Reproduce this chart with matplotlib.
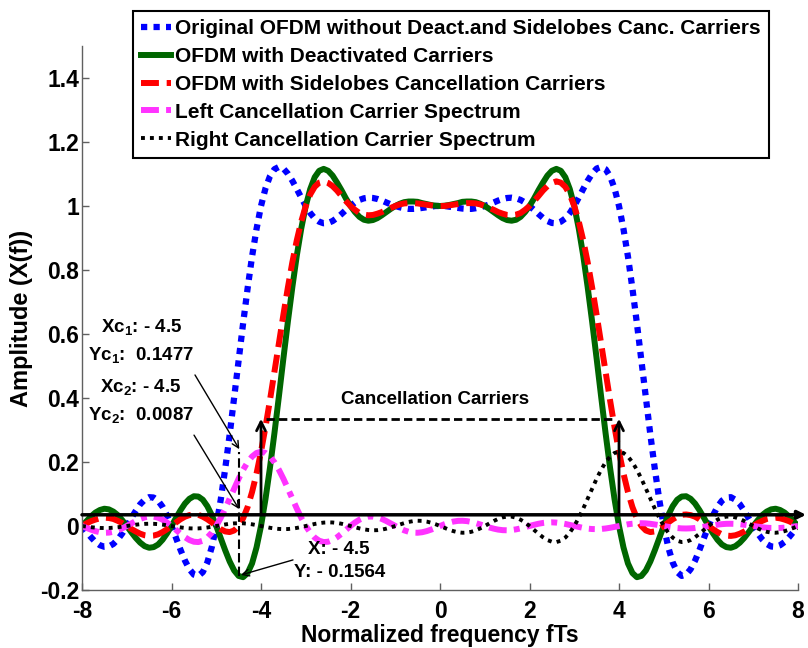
import numpy as np
import matplotlib
matplotlib.use('Agg')
import matplotlib.pyplot as plt

# ---------------- data (step 0.1 in fTs) ----------------
freq = np.linspace(-8, 8, 161)

original = [
    0.000, -0.018, -0.035, -0.050, -0.060, -0.065, -0.064, -0.056, -0.042, -0.023,
    0.000, 0.024, 0.047, 0.068, 0.082, 0.090, 0.089, 0.079, 0.060, 0.033,
    0.000, -0.037, -0.074, -0.108, -0.135, -0.152, -0.156, -0.144, -0.114, -0.066,
    0.000, 0.082, 0.179, 0.286, 0.401, 0.518, 0.633, 0.742, 0.842, 0.928,
    1.000, 1.055, 1.093, 1.115, 1.122, 1.117, 1.101, 1.079, 1.053, 1.026,
    1.000, 0.978, 0.961, 0.951, 0.946, 0.947, 0.953, 0.963, 0.975, 0.988,
    1.000, 1.011, 1.019, 1.024, 1.026, 1.025, 1.022, 1.017, 1.011, 1.005,
    1.000, 0.996, 0.993, 0.991, 0.991, 0.992, 0.994, 0.996, 0.998, 1.000,
    1.000, 1.000, 0.998, 0.996, 0.994, 0.992, 0.991, 0.991, 0.993, 0.996,
    1.000, 1.005, 1.011, 1.017, 1.022, 1.025, 1.026, 1.024, 1.019, 1.011,
    1.000, 0.988, 0.975, 0.963, 0.953, 0.947, 0.946, 0.951, 0.961, 0.978,
    1.000, 1.026, 1.053, 1.079, 1.101, 1.117, 1.122, 1.115, 1.093, 1.055,
    1.000, 0.928, 0.842, 0.742, 0.633, 0.518, 0.401, 0.286, 0.179, 0.082,
    0.000, -0.066, -0.114, -0.144, -0.156, -0.152, -0.135, -0.108, -0.074, -0.037,
    0.000, 0.033, 0.060, 0.079, 0.089, 0.090, 0.082, 0.068, 0.047, 0.024,
    0.000, -0.023, -0.042, -0.056, -0.064, -0.065, -0.060, -0.050, -0.035, -0.018,
    0.000]

deactivated = [
    0.000, 0.015, 0.030, 0.042, 0.050, 0.054, 0.052, 0.045, 0.034, 0.018,
    0.000, -0.019, -0.037, -0.052, -0.063, -0.068, -0.066, -0.058, -0.043, -0.023,
    0.000, 0.025, 0.049, 0.070, 0.085, 0.093, 0.092, 0.082, 0.062, 0.034,
    0.000, -0.038, -0.076, -0.111, -0.139, -0.156, -0.160, -0.147, -0.117, -0.067,
    0.000, 0.084, 0.182, 0.290, 0.405, 0.523, 0.638, 0.746, 0.845, 0.930,
    1.000, 1.053, 1.090, 1.110, 1.116, 1.110, 1.095, 1.073, 1.049, 1.023,
    1.000, 0.981, 0.966, 0.957, 0.954, 0.956, 0.962, 0.971, 0.981, 0.991,
    1.000, 1.007, 1.012, 1.014, 1.014, 1.013, 1.009, 1.006, 1.003, 1.001,
    1.000, 1.001, 1.003, 1.006, 1.009, 1.013, 1.014, 1.014, 1.012, 1.007,
    1.000, 0.991, 0.981, 0.971, 0.962, 0.956, 0.954, 0.957, 0.966, 0.981,
    1.000, 1.023, 1.049, 1.073, 1.095, 1.110, 1.116, 1.110, 1.090, 1.053,
    1.000, 0.930, 0.845, 0.746, 0.638, 0.523, 0.405, 0.290, 0.182, 0.084,
    0.000, -0.067, -0.117, -0.147, -0.160, -0.156, -0.139, -0.111, -0.076, -0.038,
    0.000, 0.034, 0.062, 0.082, 0.092, 0.093, 0.085, 0.070, 0.049, 0.025,
    0.000, -0.023, -0.043, -0.058, -0.066, -0.068, -0.063, -0.052, -0.037, -0.019,
    0.000, 0.018, 0.034, 0.045, 0.052, 0.054, 0.050, 0.042, 0.030, 0.015,
    0.000]

cancelled = [
    0.000, 0.008, 0.015, 0.020, 0.024, 0.026, 0.025, 0.022, 0.016, 0.009,
    0.000, -0.009, -0.017, -0.024, -0.029, -0.031, -0.030, -0.026, -0.019, -0.010,
    0.000, 0.011, 0.021, 0.029, 0.034, 0.036, 0.035, 0.029, 0.021, 0.011,
    0.000, -0.010, -0.017, -0.019, -0.014, 0.000, 0.024, 0.059, 0.106, 0.164,
    0.232, 0.309, 0.393, 0.482, 0.572, 0.660, 0.745, 0.824, 0.893, 0.952,
    1.000, 1.036, 1.060, 1.073, 1.077, 1.072, 1.062, 1.048, 1.031, 1.015,
    1.000, 0.988, 0.978, 0.973, 0.971, 0.972, 0.976, 0.981, 0.988, 0.994,
    1.000, 1.005, 1.008, 1.009, 1.009, 1.008, 1.006, 1.004, 1.002, 1.000,
    1.000, 1.000, 1.002, 1.004, 1.006, 1.008, 1.009, 1.009, 1.008, 1.005,
    1.000, 0.994, 0.988, 0.981, 0.976, 0.972, 0.971, 0.973, 0.978, 0.988,
    1.000, 1.015, 1.031, 1.048, 1.062, 1.072, 1.077, 1.073, 1.060, 1.036,
    1.000, 0.952, 0.893, 0.824, 0.745, 0.660, 0.572, 0.482, 0.393, 0.309,
    0.232, 0.164, 0.106, 0.059, 0.024, 0.000, -0.014, -0.019, -0.017, -0.010,
    0.000, 0.011, 0.021, 0.029, 0.035, 0.036, 0.034, 0.029, 0.021, 0.011,
    0.000, -0.010, -0.019, -0.026, -0.030, -0.031, -0.029, -0.024, -0.017, -0.009,
    0.000, 0.009, 0.016, 0.022, 0.025, 0.026, 0.024, 0.020, 0.015, 0.008,
    0.000]

left_carrier = [
    0.0000, -0.0059, -0.0114, -0.0161, -0.0195, -0.0211, -0.0207, -0.0181, -0.0136, -0.0074,
    0.0000, 0.0079, 0.0155, 0.0221, 0.0270, 0.0295, 0.0293, 0.0260, 0.0197, 0.0109,
    0.0000, -0.0120, -0.0241, -0.0351, -0.0439, -0.0492, -0.0502, -0.0460, -0.0362, -0.0207,
    0.0000, 0.0254, 0.0543, 0.0854, 0.1171, 0.1477, 0.1756, 0.1992, 0.2170, 0.2282,
    0.2320, 0.2282, 0.2170, 0.1992, 0.1756, 0.1477, 0.1171, 0.0854, 0.0543, 0.0254,
    0.0000, -0.0207, -0.0362, -0.0460, -0.0502, -0.0492, -0.0439, -0.0351, -0.0241, -0.0120,
    0.0000, 0.0109, 0.0197, 0.0260, 0.0293, 0.0295, 0.0270, 0.0221, 0.0155, 0.0079,
    0.0000, -0.0074, -0.0136, -0.0181, -0.0207, -0.0211, -0.0195, -0.0161, -0.0114, -0.0059,
    0.0000, 0.0056, 0.0103, 0.0139, 0.0160, 0.0164, 0.0153, 0.0127, 0.0090, 0.0047,
    0.0000, -0.0045, -0.0083, -0.0113, -0.0130, -0.0134, -0.0125, -0.0105, -0.0075, -0.0039,
    0.0000, 0.0037, 0.0070, 0.0095, 0.0110, 0.0114, 0.0106, 0.0089, 0.0064, 0.0033,
    0.0000, -0.0032, -0.0060, -0.0082, -0.0095, -0.0098, -0.0092, -0.0078, -0.0056, -0.0029,
    0.0000, 0.0028, 0.0053, 0.0072, 0.0084, 0.0087, 0.0082, 0.0069, 0.0049, 0.0026,
    0.0000, -0.0025, -0.0047, -0.0064, -0.0075, -0.0078, -0.0073, -0.0062, -0.0044, -0.0023,
    0.0000, 0.0023, 0.0043, 0.0058, 0.0068, 0.0070, 0.0066, 0.0056, 0.0040, 0.0021,
    0.0000, -0.0021, -0.0039, -0.0053, -0.0062, -0.0064, -0.0061, -0.0051, -0.0037, -0.0019,
    0.0000]

right_carrier = [
    0.0000, -0.0019, -0.0037, -0.0051, -0.0061, -0.0064, -0.0062, -0.0053, -0.0039, -0.0021,
    0.0000, 0.0021, 0.0040, 0.0056, 0.0066, 0.0070, 0.0068, 0.0058, 0.0043, 0.0023,
    0.0000, -0.0023, -0.0044, -0.0062, -0.0073, -0.0078, -0.0075, -0.0064, -0.0047, -0.0025,
    0.0000, 0.0026, 0.0049, 0.0069, 0.0082, 0.0087, 0.0084, 0.0072, 0.0053, 0.0028,
    0.0000, -0.0029, -0.0056, -0.0078, -0.0092, -0.0098, -0.0095, -0.0082, -0.0060, -0.0032,
    0.0000, 0.0033, 0.0064, 0.0089, 0.0106, 0.0114, 0.0110, 0.0095, 0.0070, 0.0037,
    0.0000, -0.0039, -0.0075, -0.0105, -0.0125, -0.0134, -0.0130, -0.0113, -0.0083, -0.0045,
    0.0000, 0.0047, 0.0090, 0.0127, 0.0153, 0.0164, 0.0160, 0.0139, 0.0103, 0.0056,
    0.0000, -0.0059, -0.0114, -0.0161, -0.0195, -0.0211, -0.0207, -0.0181, -0.0136, -0.0074,
    0.0000, 0.0079, 0.0155, 0.0221, 0.0270, 0.0295, 0.0293, 0.0260, 0.0197, 0.0109,
    0.0000, -0.0120, -0.0241, -0.0351, -0.0439, -0.0492, -0.0502, -0.0460, -0.0362, -0.0207,
    0.0000, 0.0254, 0.0543, 0.0854, 0.1171, 0.1477, 0.1756, 0.1992, 0.2170, 0.2282,
    0.2320, 0.2282, 0.2170, 0.1992, 0.1756, 0.1477, 0.1171, 0.0854, 0.0543, 0.0254,
    0.0000, -0.0207, -0.0362, -0.0460, -0.0502, -0.0492, -0.0439, -0.0351, -0.0241, -0.0120,
    0.0000, 0.0109, 0.0197, 0.0260, 0.0293, 0.0295, 0.0270, 0.0221, 0.0155, 0.0079,
    0.0000, -0.0074, -0.0136, -0.0181, -0.0207, -0.0211, -0.0195, -0.0161, -0.0114, -0.0059,
    0.0000]

labels = ['Original OFDM without Deact.and Sidelobes Canc. Carriers',
          'OFDM with Deactivated Carriers',
          'OFDM with Sidelobes Cancellation Carriers',
          'Left Cancellation Carrier Spectrum',
          'Right Cancellation Carrier Spectrum']

x_ticks = [-8, -6, -4, -2, 0, 2, 4, 6, 8]
y_ticks = [-0.2, 0, 0.2, 0.4, 0.6, 0.8, 1.0, 1.2, 1.4]
y_ticklabels = ['-0.2', '0', '0.2', '0.4', '0.6', '0.8', '1', '1.2', '1.4']

# ---------------- style ----------------
plt.rcParams['font.family'] = ['Liberation Sans', 'DejaVu Sans']
plt.rcParams['font.weight'] = 'bold'
plt.rcParams['axes.unicode_minus'] = False
plt.rcParams['mathtext.fontset'] = 'custom'
plt.rcParams['mathtext.rm'] = 'Liberation Sans:bold'
plt.rcParams['mathtext.it'] = 'Liberation Sans:bold'
plt.rcParams['mathtext.bf'] = 'Liberation Sans:bold'

fig = plt.figure(figsize=(8.08, 6.48), dpi=100)
ax = fig.add_axes([0.10149, 0.08951, 0.88614, 0.83951])

ax.plot(freq, original, color='#0000ff', lw=4.5, ls=(0, (1, 1)), label=labels[0])
ax.plot(freq, deactivated, color='#006600', lw=4.3, ls='-', label=labels[1])
ax.plot(freq, cancelled, color='#ff0000', lw=4.3, ls=(0, (3, 1.3)), label=labels[2])
ax.plot(freq, left_carrier, color='#ff33ff', lw=4.3, ls=(0, (3, 1.2, 1, 1.2)), label=labels[3])
ax.plot(freq, right_carrier, color='black', lw=2.8, ls=(0, (1, 1.3)), label=labels[4])

ax.set_xlim(-8, 8)
ax.set_ylim(-0.2, 1.5)
ax.set_xticks(x_ticks)
ax.set_yticks(y_ticks)
ax.set_yticklabels(y_ticklabels)
for s in ['top', 'right']:
    ax.spines[s].set_visible(False)
for s in ['left', 'bottom']:
    ax.spines[s].set_color('#606060')
    ax.spines[s].set_linewidth(1.0)
ax.tick_params(direction='in', length=5, width=1, color='#606060', labelsize=16.5)
ax.tick_params(axis='x', pad=7.5)
ax.tick_params(axis='y', pad=2)
ax.set_xlabel('Normalized frequency fTs', fontsize=16.5, fontweight='bold')
ax.set_ylabel('Amplitude (X(f))', fontsize=17, fontweight='bold')
ax.xaxis.set_label_coords(0.5, -0.0625)
ax.yaxis.set_label_coords(-0.0684, 0.5)

leg = ax.legend(loc='upper left', bbox_to_anchor=(133 / 808, 1 - 11 / 648),
                bbox_transform=fig.transFigure, fontsize=15, frameon=True,
                fancybox=False, edgecolor='black', framealpha=1, borderaxespad=0,
                borderpad=0.38, labelspacing=0.43, handlelength=1.45, handletextpad=0.2)
leg.get_frame().set_linewidth(1.5)

# ---------------- annotations ----------------
ax.annotate('', xy=(8.18, 0.035), xytext=(-8, 0.035), annotation_clip=False,
            arrowprops=dict(arrowstyle='-|>', lw=2.5, color='black', mutation_scale=12,
                            shrinkA=0, shrinkB=0))
for xc in (-4, 4):
    ax.annotate('', xy=(xc, 0.335), xytext=(xc, 0.035),
                arrowprops=dict(arrowstyle='->', lw=2, color='black', mutation_scale=16,
                                shrinkA=0, shrinkB=0))
ax.plot([-3.88, 3.9], [0.333, 0.333], color='black', lw=2, ls=(0, (3, 1.5)))
ax.plot([-4.5, -4.5], [-0.156, 0.231], color='black', lw=1.5, ls=(0, (4.5, 2)))
ax.text(-0.11, 0.394, 'Cancellation Carriers', fontsize=13.5, ha='center', va='center')

fs = 13.5
ax.text(-6.66, 0.622, 'Xc$_1$: - 4.5', fontsize=fs, ha='center', va='center')
ax.text(-6.68, 0.534, 'Yc$_1$:  0.1477', fontsize=fs, ha='center', va='center')
ax.text(-6.68, 0.434, 'Xc$_2$: - 4.5', fontsize=fs, ha='center', va='center')
ax.text(-6.69, 0.347, 'Yc$_2$:  0.0087', fontsize=fs, ha='center', va='center')
ax.text(-2.257, -0.075, 'X: - 4.5', fontsize=fs, ha='center', va='center')
ax.text(-2.235, -0.144, 'Y: - 0.1564', fontsize=fs, ha='center', va='center')
ap = dict(arrowstyle='->', lw=1, color='black', mutation_scale=12, shrinkA=0, shrinkB=0)
ax.annotate('', xy=(-4.485, 0.240), xytext=(-5.475, 0.472), arrowprops=ap)
ax.annotate('', xy=(-4.492, 0.053), xytext=(-5.497, 0.284), arrowprops=ap)
ax.annotate('', xy=(-4.447, -0.153), xytext=(-3.285, -0.106), arrowprops=ap)

fig.savefig('out.png', dpi=100)
